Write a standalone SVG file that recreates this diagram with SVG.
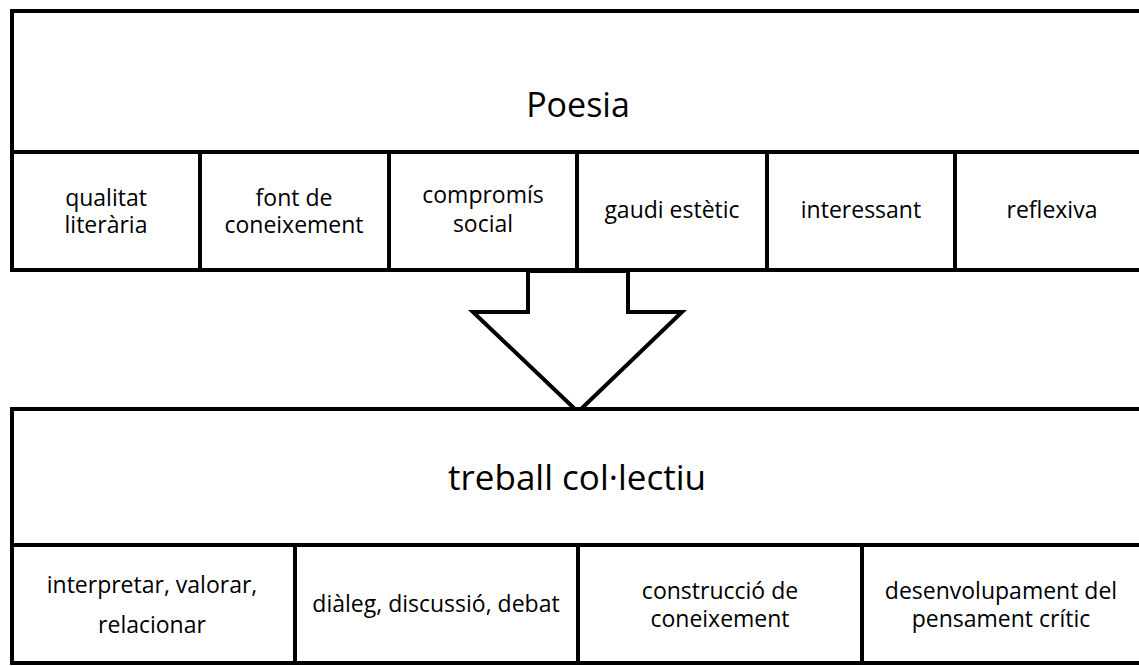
<svg xmlns="http://www.w3.org/2000/svg" width="1139" height="666" viewBox="0 0 1139 666">
  <style>
    .box { fill: #ffffff; stroke: #000000; stroke-width: 4; }
    .title { font-family: "Open Sans", "DejaVu Sans", sans-serif; font-size: 34px; fill: #000000; text-anchor: middle; }
    .label { font-family: "Open Sans", "DejaVu Sans", sans-serif; font-size: 23px; fill: #000000; text-anchor: middle; }
  </style>

  <!-- upper block: Poesia -->
  <g id="poesia">
    <rect class="box" x="12" y="11" width="1140" height="141"/>
    <text class="title" x="578" y="117">Poesia</text>
  </g>
  <g id="qualitat">
    <rect class="box" x="12" y="152" width="188" height="118"/>
    <text class="label" x="106" y="206">qualitat</text>
    <text class="label" x="106" y="233">literària</text>
  </g>
  <g id="font-coneixement">
    <rect class="box" x="200" y="152" width="189" height="118"/>
    <text class="label" x="294" y="206">font de</text>
    <text class="label" x="294" y="233">coneixement</text>
  </g>
  <g id="compromis">
    <rect class="box" x="389" y="152" width="188" height="118"/>
    <text class="label" x="483" y="203">compromís</text>
    <text class="label" x="483" y="232">social</text>
  </g>
  <g id="gaudi">
    <rect class="box" x="577" y="152" width="190" height="118"/>
    <text class="label" x="672" y="218">gaudi estètic</text>
  </g>
  <g id="interessant">
    <rect class="box" x="767" y="152" width="188" height="118"/>
    <text class="label" x="861" y="218">interessant</text>
  </g>
  <g id="reflexiva">
    <rect class="box" x="955" y="152" width="197" height="118"/>
    <text class="label" x="1052" y="218">reflexiva</text>
  </g>

  <!-- block arrow between the two blocks -->
  <g id="connectors">
    <polygon class="box" points="528,271 628,271 628,312 682,312 578,412 473,312 528,312"/>
  </g>

  <!-- lower block: treball col·lectiu -->
  <g id="treball">
    <rect class="box" x="12" y="409" width="1140" height="136"/>
    <text class="title" x="577" y="490" style="font-size:35px">treball col·lectiu</text>
  </g>
  <g id="interpretar">
    <rect class="box" x="12" y="545" width="283" height="118"/>
    <text class="label" x="152" y="593">interpretar, valorar,</text>
    <text class="label" x="152" y="633">relacionar</text>
  </g>
  <g id="dialeg">
    <rect class="box" x="295" y="545" width="283" height="118"/>
    <text class="label" x="436" y="612">diàleg, discussió, debat</text>
  </g>
  <g id="construccio">
    <rect class="box" x="578" y="545" width="284" height="118"/>
    <text class="label" x="720" y="599">construcció de</text>
    <text class="label" x="720" y="627">coneixement</text>
  </g>
  <g id="pensament">
    <rect class="box" x="862" y="545" width="290" height="118"/>
    <text class="label" x="1001" y="599">desenvolupament del</text>
    <text class="label" x="1001" y="627">pensament crític</text>
  </g>
</svg>
